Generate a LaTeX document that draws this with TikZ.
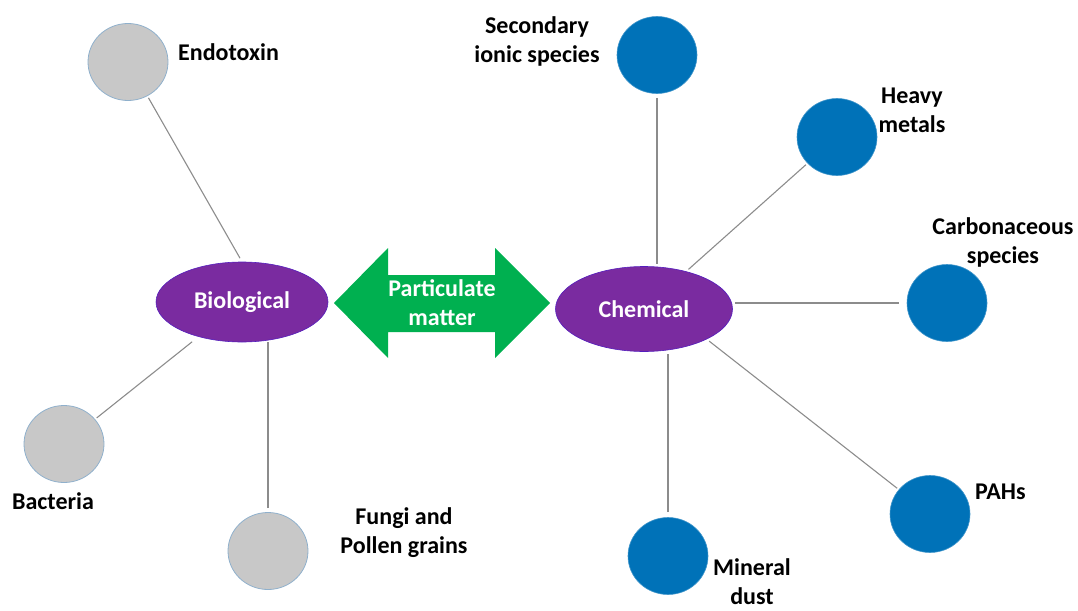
\documentclass[tikz,border=0pt]{standalone}
\usepackage{fontspec}
\setmainfont{Carlito}
\usetikzlibrary{shapes.geometric}
\definecolor{greyfill}{HTML}{C8C8C8}
\definecolor{greyedge}{HTML}{8FB0CC}
\definecolor{chemblue}{HTML}{0072B8}
\definecolor{purp}{HTML}{7A2BA0}
\definecolor{pmgreen}{HTML}{00B050}
\definecolor{linkgrey}{HTML}{8C8C8C}
\begin{document}
\begin{tikzpicture}[x=1pt,y=-1pt,
  lbl/.style={font=\fontsize{24}{29}\selectfont\bfseries, align=center, inner sep=0pt, text=black},
  biocirc/.style={ellipse, fill=greyfill, draw=greyedge, line width=0.8pt, minimum width=80pt, minimum height=77pt, inner sep=0pt},
  chemcirc/.style={ellipse, fill=chemblue, draw=chemblue!75!white, line width=0.6pt, minimum width=80pt, minimum height=77pt, inner sep=0pt},
  hub/.style={ellipse, fill=purp, draw=purp!70!blue, line width=0.6pt, inner sep=0pt, text=white, font=\fontsize{24}{29}\selectfont\bfseries},
  link/.style={draw=linkgrey, line width=1.1pt}]
\useasboundingbox (0,0) rectangle (1078,610);

% hubs
\node[hub, minimum width=172pt, minimum height=80pt] (bio) at (242,302) {Biological};
\node[hub, minimum width=177pt, minimum height=85pt] (chem) at (644,309) {Chemical};

% particulate matter double arrow
\fill[pmgreen] (334,303) -- (388,248) -- (388,275) -- (495,275) -- (495,248) -- (550,303)
  -- (495,358) -- (495,332) -- (388,332) -- (388,358) -- cycle;
\node[lbl, text=white, anchor=base] (pm) at (442,325) {Particulate\\matter};

% biological circles
\node[biocirc] (endo) at (128,62) {};
\node[biocirc] (bact) at (64,444) {};
\node[biocirc] (fungi) at (268,551) {};

% chemical circles
\node[chemcirc] (sec) at (657,55) {};
\node[chemcirc] (heavy) at (837,137) {};
\node[chemcirc] (carb) at (947,303) {};
\node[chemcirc] (pahs) at (930,514) {};
\node[chemcirc] (mineral) at (668,556) {};

% labels (anchor=base is the baseline of the last line)
\node[lbl, anchor=base west] (lendo) at (178,60) {Endotoxin};
\node[lbl, anchor=base] (lbact) at (53,509) {Bacteria};
\node[lbl, anchor=base] (lfungi) at (404,553) {Fungi and\\Pollen grains};
\node[lbl, anchor=base] (lsec) at (537,63) {Secondary\\ionic species};
\node[lbl, anchor=base] (lheavy) at (912,132) {Heavy\\metals};
\node[lbl, anchor=base] (lcarb) at (1003,263) {Carbonaceous\\species};
\node[lbl, anchor=base west] (lpahs) at (975,499) {PAHs};
\node[lbl, anchor=base] (lmin) at (752,604) {Mineral\\dust};

% connectors
\draw[link, shorten <=2pt, shorten >=4pt] (endo) -- (bio.north);
\draw[link, shorten <=2pt, shorten >=8pt] (bact) -- (bio);
\draw[link, shorten <=4pt] (fungi.north) -- (fungi.north |- bio.south);
\draw[link, shorten <=4pt, shorten >=2pt] (sec.south) -- (sec.south |- chem.north);
\draw[link, shorten <=2pt, shorten >=3pt] (heavy) -- (chem);
\draw[link, shorten <=8pt, shorten >=2pt] (carb.west) -- (carb.west -| chem.east);
\draw[link, shorten <=2pt, shorten >=3pt] (pahs) -- (chem.south east);
\draw[link, shorten <=5pt, shorten >=2pt] (mineral.north) -- (mineral.north |- chem.south);
\end{tikzpicture}
\end{document}
